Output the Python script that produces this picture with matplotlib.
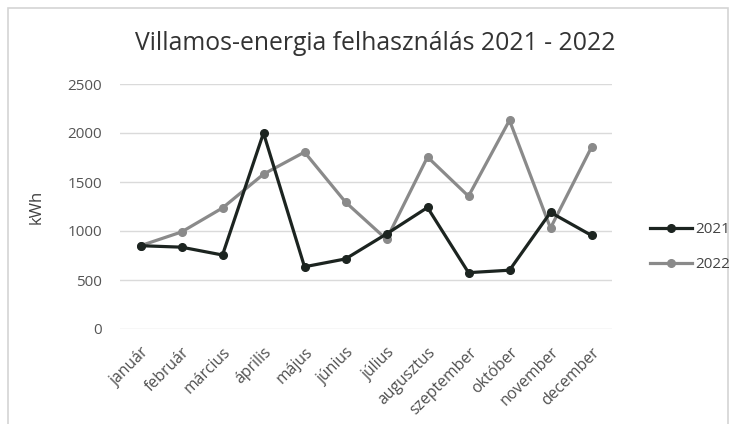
import matplotlib.pyplot as plt
from matplotlib.patches import Rectangle

months = ["január", "február", "március", "április", "május", "június",
          "július", "augusztus", "szeptember", "október", "november", "december"]
kwh_2021 = [850, 835, 755, 2000, 635, 715, 970, 1240, 575, 600, 1190, 955]
kwh_2022 = [850, 990, 1235, 1580, 1805, 1295, 915, 1755, 1355, 2130, 1030, 1855]
y_ticks = [0, 500, 1000, 1500, 2000, 2500]

plt.rcParams["font.family"] = ["Open Sans", "DejaVu Sans"]

fig = plt.figure(figsize=(7.36, 4.24), dpi=100)
fig.patch.set_facecolor("white")

# light frame around the chart area
fig.patches.append(Rectangle((8 / 736, -0.01), 720 / 736, 1 - 8 / 424 + 0.01,
                             transform=fig.transFigure, fill=False,
                             edgecolor="#d4d4d4", linewidth=1.2))

ax = fig.add_axes([120 / 736, 1 - 329 / 424, 492 / 736, 245 / 424])
x = range(len(months))
ax.plot(x, kwh_2021, color="#1c2420", linewidth=2.3, marker="o",
        markersize=5.5, label="2021", zorder=3)
ax.plot(x, kwh_2022, color="#8a8a8a", linewidth=2.3, marker="o",
        markersize=5.5, label="2022", zorder=2)

ax.set_ylim(0, 2500)
ax.set_xlim(-0.5, len(months) - 0.5)
ax.set_yticks(y_ticks)
ax.set_yticklabels([str(v) for v in y_ticks], color="#555555", fontsize=11)
ax.set_xticks(list(x))
ax.set_xticklabels(months, rotation=45, ha="right", rotation_mode="anchor",
                   color="#505050", fontsize=11.3)
ax.tick_params(axis="y", length=0, pad=13)
ax.tick_params(axis="x", length=0, pad=11)
ax.grid(axis="y", color="#dadada", linewidth=1)
for s in ax.spines.values():
    s.set_visible(False)
ax.set_ylabel("kWh", fontsize=12, color="#404040")
ax.yaxis.set_label_coords(-0.153, 0.5)

fig.text(375 / 736, 1 - 50 / 424, "Villamos-energia felhasználás 2021 - 2022",
         ha="center", va="baseline", fontsize=17.8, color="#333333")

fig.legend(loc="center left", bbox_to_anchor=(642 / 736, 1 - 247 / 424),
           frameon=False, borderpad=0, fontsize=11, handlelength=2.8,
           handletextpad=0.2, labelspacing=1.3, labelcolor="#444444")

fig.savefig("out.png", dpi=100)
